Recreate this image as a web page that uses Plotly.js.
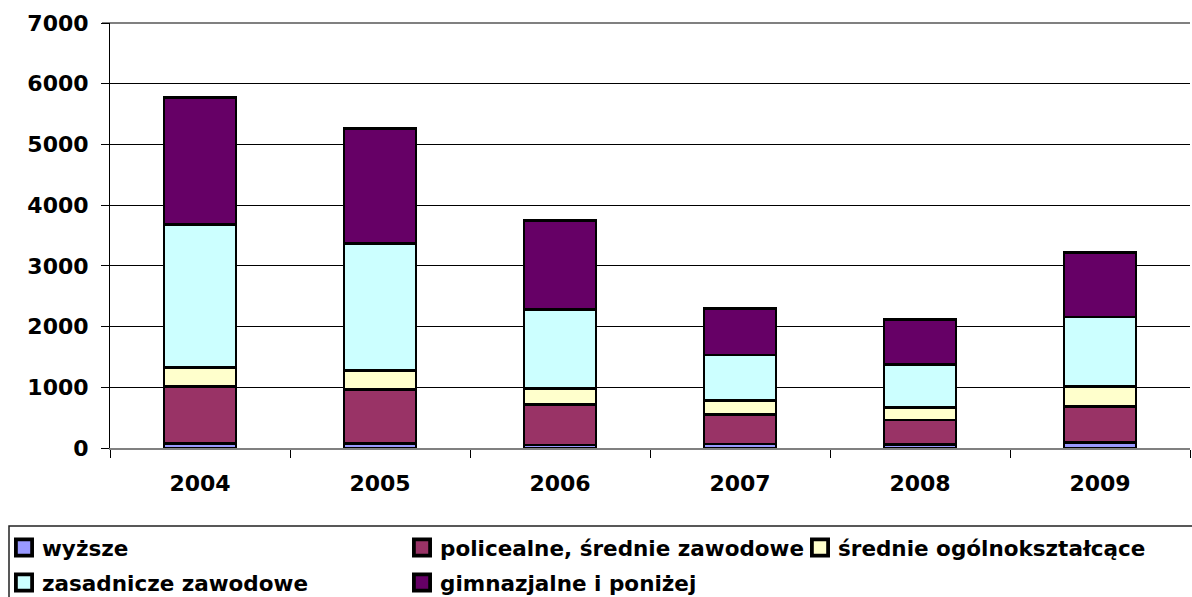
<!DOCTYPE html>
<html>
<head>
<meta charset="utf-8">
<script src="https://cdn.plot.ly/plotly-3.0.1.min.js"></script>
<style>html,body{margin:0;padding:0;background:#fff;}#chart{width:1192px;height:597px;}</style>
</head>
<body>
<div id="chart"></div>
<script>
var years = ['2004', '2005', '2006', '2007', '2008', '2009'];
var wyzsze = [80, 80, 50, 65, 60, 95];
var policealne = [930, 885, 673, 482, 400, 584];
var srednieOgolne = [316, 317, 263, 242, 202, 335];
var zasadnicze = [2354, 2086, 1298, 744, 713, 1143];
var gimnazjalne = [2087, 1890, 1462, 767, 740, 1063];

var names = ['wyższe', 'policealne, średnie zawodowe', 'średnie ogólnokształcące', 'zasadnicze zawodowe', 'gimnazjalne i poniżej'];
var colors = ['#9999FF', '#993366', '#FFFFCC', '#CCFFFF', '#660066'];
var series = [wyzsze, policealne, srednieOgolne, zasadnicze, gimnazjalne];
var legendIds = ['legend', 'legend2', 'legend3', 'legend4', 'legend5'];

var FONT = 'DejaVu Sans, Verdana, sans-serif';

var traces = series.map(function (vals, i) {
  return {
    type: 'bar',
    x: years,
    y: vals,
    name: names[i],
    legend: legendIds[i],
    marker: { color: colors[i], line: { color: '#000', width: 2.8 } },
    hoverinfo: 'x+y+name'
  };
});

function leg(xpx, ytop) {
  return {
    xref: 'container', yref: 'container',
    x: xpx / 1192, y: 1 - ytop / 597,
    xanchor: 'left', yanchor: 'top',
    bgcolor: 'rgba(0,0,0,0)', borderwidth: 0,
    font: { family: FONT, size: 21.5, color: '#000', weight: 'bold' },
    traceorder: 'normal'
  };
}

var layout = {
  width: 1192, height: 597,
  margin: { l: 110, r: 2, t: 23, b: 149, autoexpand: false },
  paper_bgcolor: '#fff', plot_bgcolor: '#fff',
  barmode: 'stack',
  bargap: 0.6,
  showlegend: true,
  legend: leg(2, 527),
  legend2: leg(400, 527),
  legend3: leg(798, 527),
  legend4: leg(2, 562),
  legend5: leg(400, 562),
  xaxis: {
    type: 'category',
    showgrid: false,
    showline: true, linecolor: '#808080', linewidth: 2,
    ticks: 'outside', tickson: 'boundaries', ticklen: 8, tickcolor: '#000', tickwidth: 1,
    ticklabelstandoff: 15,
    tickfont: { family: FONT, size: 22, color: '#000', weight: 'bold' }
  },
  yaxis: {
    range: [0, 7000], dtick: 1000, tick0: 0,
    showgrid: true, gridcolor: '#000', gridwidth: 1,
    zeroline: false,
    showline: true, linecolor: '#000', linewidth: 1,
    ticks: 'outside', ticklen: 8, tickcolor: '#000', tickwidth: 1,
    ticklabelstandoff: 8,
    tickfont: { family: FONT, size: 22, color: '#000', weight: 'bold' }
  },
  shapes: [{
    type: 'rect', xref: 'paper', yref: 'paper',
    x0: (9 - 110) / 1080, x1: 1.02,
    y0: (448 - 526) / 425, y1: -0.45,
    line: { color: '#222', width: 1.5 },
    fillcolor: 'rgba(0,0,0,0)'
  }, {
    type: 'line', xref: 'paper', yref: 'paper',
    x0: -8 / 1080, x1: 1, y0: 1, y1: 1,
    line: { color: '#808080', width: 2 },
    layer: 'below'
  }]
};

Plotly.newPlot('chart', traces, layout, { displayModeBar: false, staticPlot: true }).then(function () {
  document.querySelectorAll('.legendpoints path').forEach(function (p) {
    var t = p.getAttribute('transform') || '';
    p.setAttribute('transform', t + ' translate(2,0) scale(1.35)');
  });
});
</script>
</body>
</html>
